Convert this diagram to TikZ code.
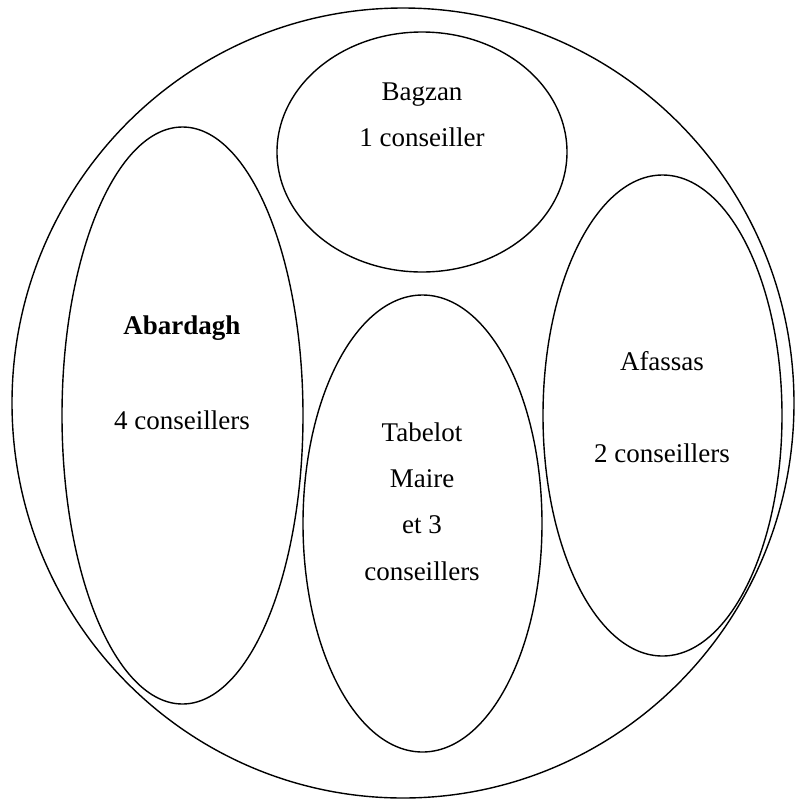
\documentclass[tikz,border=0pt]{standalone}
\usepackage{fontspec}
\setmainfont{Liberation Serif}
\usetikzlibrary{shapes.geometric}
\begin{document}
\begin{tikzpicture}[x=0.5pt,y=-0.5pt,
  zone/.style={draw, ellipse, line width=0.7pt, inner sep=0pt, outer sep=0pt},
  lbl/.style={anchor=base, inner sep=0pt, font=\fontsize{13.5pt}{16pt}\selectfont}]
\useasboundingbox (0,0) rectangle (795,799);
\node[zone, minimum width=782pt*0.5, minimum height=790pt*0.5] (all) at (403,403) {};
\node[zone, minimum width=290pt*0.5, minimum height=240pt*0.5] (bag) at (422,152) {};
\node[zone, minimum width=241pt*0.5, minimum height=577pt*0.5] (aba) at (182.5,415.5) {};
\node[zone, minimum width=239pt*0.5, minimum height=457pt*0.5] (tab) at (422.5,523.5) {};
\node[zone, minimum width=239pt*0.5, minimum height=481pt*0.5] (afa) at (662.5,415.5) {};
\node[lbl] (t1) at (422,100) {Bagzan};
\node[lbl] (t2) at (422,146) {1 conseiller};
\node[lbl] (t3) at (182,334) {\bfseries Abardagh};
\node[lbl] (t4) at (182,429) {4 conseillers};
\node[lbl] (t5) at (422,441) {Tabelot};
\node[lbl] (t6) at (422,487) {Maire};
\node[lbl] (t7) at (422,533) {et 3};
\node[lbl] (t8) at (422,580) {conseillers};
\node[lbl] (t9) at (662,370) {Afassas};
\node[lbl] (t10) at (662,462) {2 conseillers};
\end{tikzpicture}
\end{document}
